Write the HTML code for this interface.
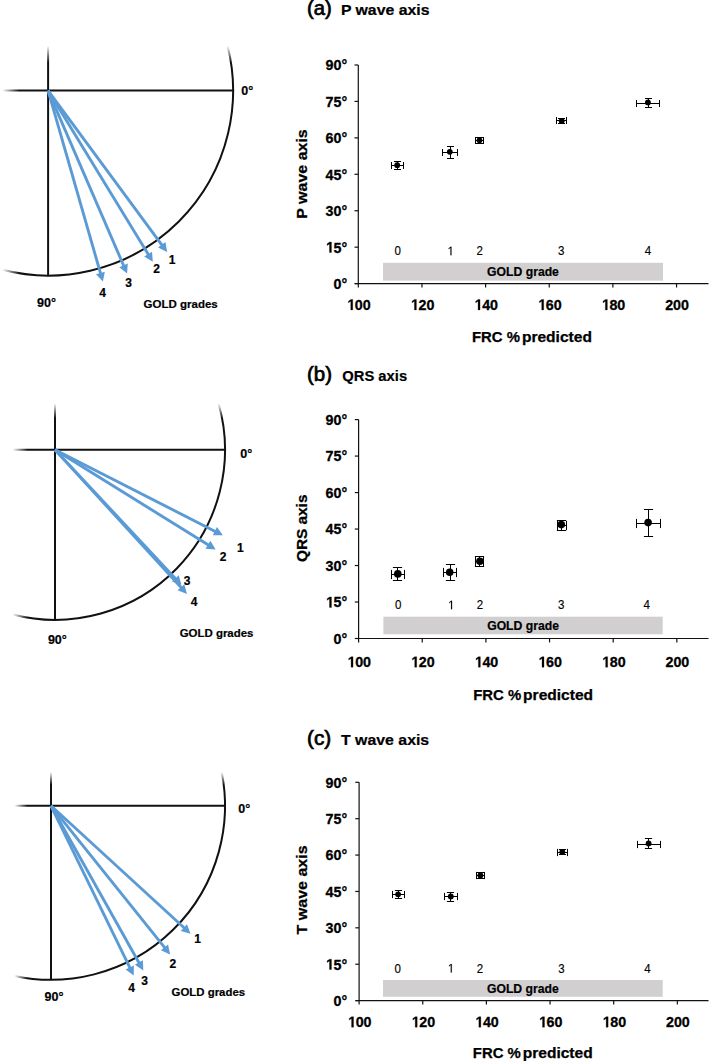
<!DOCTYPE html>
<html><head><meta charset="utf-8"><title>ECG axis vs FRC</title>
<style>html,body{margin:0;padding:0;background:#fff;} svg{display:block;} text{font-family:"Liberation Sans",sans-serif;}</style>
</head><body>
<svg width="709" height="1061" viewBox="0 0 709 1061">
<defs>
<linearGradient id="gh0" gradientUnits="userSpaceOnUse" x1="2.3" y1="0" x2="19.3" y2="0"><stop offset="0" stop-color="#000"/><stop offset="1" stop-color="#fff"/></linearGradient>
<linearGradient id="gv0" gradientUnits="userSpaceOnUse" x1="0" y1="45.7" x2="0" y2="62.7"><stop offset="0" stop-color="#000"/><stop offset="1" stop-color="#fff"/></linearGradient>
<mask id="m0" maskUnits="userSpaceOnUse" x="0" y="-9.400000000000006" width="300" height="385">
<rect x="0" y="-9.400000000000006" width="300" height="385" fill="#fff"/>
<rect x="0" y="30.599999999999994" width="19.3" height="265" fill="url(#gh0)"/>
<rect x="38.1" y="-9.400000000000006" width="215" height="72.10000000000001" fill="url(#gv0)"/>
</mask>
<linearGradient id="gh1" gradientUnits="userSpaceOnUse" x1="12.7" y1="0" x2="27.7" y2="0"><stop offset="0" stop-color="#000"/><stop offset="1" stop-color="#fff"/></linearGradient>
<linearGradient id="gv1" gradientUnits="userSpaceOnUse" x1="0" y1="403.3" x2="0" y2="418.3"><stop offset="0" stop-color="#000"/><stop offset="1" stop-color="#fff"/></linearGradient>
<mask id="m1" maskUnits="userSpaceOnUse" x="0" y="349.8" width="300" height="370">
<rect x="0" y="349.8" width="300" height="370" fill="#fff"/>
<rect x="0" y="389.8" width="27.7" height="250" fill="url(#gh1)"/>
<rect x="45.0" y="349.8" width="200" height="68.5" fill="url(#gv1)"/>
</mask>
<linearGradient id="gh2" gradientUnits="userSpaceOnUse" x1="14.4" y1="0" x2="27.4" y2="0"><stop offset="0" stop-color="#000"/><stop offset="1" stop-color="#fff"/></linearGradient>
<linearGradient id="gv2" gradientUnits="userSpaceOnUse" x1="0" y1="771.9" x2="0" y2="784.9"><stop offset="0" stop-color="#000"/><stop offset="1" stop-color="#fff"/></linearGradient>
<mask id="m2" maskUnits="userSpaceOnUse" x="0" y="705.8" width="300" height="374">
<rect x="0" y="705.8" width="300" height="374" fill="#fff"/>
<rect x="0" y="745.8" width="27.4" height="254" fill="url(#gh2)"/>
<rect x="41.0" y="705.8" width="204" height="79.10000000000002" fill="url(#gv2)"/>
</mask>
</defs>
<rect width="709" height="1061" fill="#fff"/>
<g mask="url(#m0)" stroke="#111" stroke-width="2" fill="none">
<line x1="2.3" y1="90.6" x2="233.1" y2="90.6"/>
<line x1="48.1" y1="45.7" x2="48.1" y2="275.6"/>
<path d="M227.57,45.70 A185,185 0 0 1 2.30,269.84"/>
</g>
<line x1="48.1" y1="90.6" x2="162.35" y2="245.56" stroke="#5b9bd5" stroke-width="2.9"/>
<polygon points="167.10,252.00 158.06,247.49 165.46,242.03" fill="#5b9bd5"/>
<line x1="48.1" y1="90.6" x2="148.63" y2="254.98" stroke="#5b9bd5" stroke-width="2.9"/>
<polygon points="152.80,261.80 144.18,256.52 152.03,251.72" fill="#5b9bd5"/>
<line x1="48.1" y1="90.6" x2="123.93" y2="266.26" stroke="#5b9bd5" stroke-width="2.9"/>
<polygon points="127.10,273.60 119.31,267.16 127.76,263.51" fill="#5b9bd5"/>
<line x1="48.1" y1="90.6" x2="100.69" y2="273.91" stroke="#5b9bd5" stroke-width="2.9"/>
<polygon points="102.90,281.60 96.00,274.22 104.84,271.68" fill="#5b9bd5"/>
<text x="172.2" y="263.6" text-anchor="middle" font-family="Liberation Sans, sans-serif" font-weight="bold" font-size="12" stroke="#000" stroke-width="0.2">1</text>
<text x="156.7" y="273.4" text-anchor="middle" font-family="Liberation Sans, sans-serif" font-weight="bold" font-size="12" stroke="#000" stroke-width="0.2">2</text>
<text x="128.6" y="286.9" text-anchor="middle" font-family="Liberation Sans, sans-serif" font-weight="bold" font-size="12" stroke="#000" stroke-width="0.2">3</text>
<text x="102.5" y="296.8" text-anchor="middle" font-family="Liberation Sans, sans-serif" font-weight="bold" font-size="12" stroke="#000" stroke-width="0.2">4</text>
<text x="241.2" y="95.2" font-family="Liberation Sans, sans-serif" font-weight="bold" font-size="12.5" stroke="#000" stroke-width="0.2">0°</text>
<text x="37.0" y="306.6" font-family="Liberation Sans, sans-serif" font-weight="bold" font-size="12.5" stroke="#000" stroke-width="0.2">90°</text>
<text x="143.6" y="308.2" font-family="Liberation Sans, sans-serif" font-weight="bold" font-size="11.6" stroke="#000" stroke-width="0.2" textLength="74.1" lengthAdjust="spacingAndGlyphs">GOLD grades</text>
<g mask="url(#m1)" stroke="#111" stroke-width="2" fill="none">
<line x1="12.7" y1="449.8" x2="225.0" y2="449.8"/>
<line x1="55.0" y1="403.3" x2="55.0" y2="619.8"/>
<path d="M218.52,403.30 A170,170 0 0 1 12.70,614.45"/>
</g>
<line x1="55.0" y1="449.8" x2="215.77" y2="531.67" stroke="#5b9bd5" stroke-width="2.9"/>
<polygon points="222.90,535.30 212.79,535.32 216.97,527.12" fill="#5b9bd5"/>
<line x1="55.0" y1="449.8" x2="208.80" y2="545.28" stroke="#5b9bd5" stroke-width="2.9"/>
<polygon points="215.60,549.50 205.53,548.66 210.38,540.84" fill="#5b9bd5"/>
<line x1="55.0" y1="449.8" x2="176.03" y2="579.16" stroke="#5b9bd5" stroke-width="2.9"/>
<polygon points="181.50,585.00 171.99,581.57 178.71,575.29" fill="#5b9bd5"/>
<line x1="55.0" y1="449.8" x2="181.60" y2="588.00" stroke="#5b9bd5" stroke-width="2.9"/>
<polygon points="187.00,593.90 177.53,590.37 184.31,584.16" fill="#5b9bd5"/>
<text x="240.3" y="551.8" text-anchor="middle" font-family="Liberation Sans, sans-serif" font-weight="bold" font-size="12" stroke="#000" stroke-width="0.2">1</text>
<text x="223.1" y="561.2" text-anchor="middle" font-family="Liberation Sans, sans-serif" font-weight="bold" font-size="12" stroke="#000" stroke-width="0.2">2</text>
<text x="187.0" y="584.8" text-anchor="middle" font-family="Liberation Sans, sans-serif" font-weight="bold" font-size="12" stroke="#000" stroke-width="0.2">3</text>
<text x="194.0" y="606.4" text-anchor="middle" font-family="Liberation Sans, sans-serif" font-weight="bold" font-size="12" stroke="#000" stroke-width="0.2">4</text>
<text x="240.2" y="457.8" font-family="Liberation Sans, sans-serif" font-weight="bold" font-size="12.5" stroke="#000" stroke-width="0.2">0°</text>
<text x="47.9" y="644.3" font-family="Liberation Sans, sans-serif" font-weight="bold" font-size="12.5" stroke="#000" stroke-width="0.2">90°</text>
<text x="179.7" y="637.1" font-family="Liberation Sans, sans-serif" font-weight="bold" font-size="11.6" stroke="#000" stroke-width="0.2" textLength="73.7" lengthAdjust="spacingAndGlyphs">GOLD grades</text>
<g mask="url(#m2)" stroke="#111" stroke-width="2" fill="none">
<line x1="14.4" y1="805.8" x2="225.0" y2="805.8"/>
<line x1="51.0" y1="771.9" x2="51.0" y2="979.8"/>
<path d="M221.67,771.90 A174,174 0 0 1 14.40,975.91"/>
</g>
<line x1="51.0" y1="805.8" x2="184.60" y2="928.29" stroke="#5b9bd5" stroke-width="2.9"/>
<polygon points="190.50,933.70 180.76,931.01 186.97,924.23" fill="#5b9bd5"/>
<line x1="51.0" y1="805.8" x2="165.10" y2="948.16" stroke="#5b9bd5" stroke-width="2.9"/>
<polygon points="170.10,954.40 160.88,950.25 168.06,944.50" fill="#5b9bd5"/>
<line x1="51.0" y1="805.8" x2="139.39" y2="963.42" stroke="#5b9bd5" stroke-width="2.9"/>
<polygon points="143.30,970.40 134.89,964.80 142.91,960.30" fill="#5b9bd5"/>
<line x1="51.0" y1="805.8" x2="130.20" y2="968.41" stroke="#5b9bd5" stroke-width="2.9"/>
<polygon points="133.70,975.60 125.62,969.52 133.89,965.49" fill="#5b9bd5"/>
<text x="197.6" y="942.9" text-anchor="middle" font-family="Liberation Sans, sans-serif" font-weight="bold" font-size="12" stroke="#000" stroke-width="0.2">1</text>
<text x="172.9" y="967.6" text-anchor="middle" font-family="Liberation Sans, sans-serif" font-weight="bold" font-size="12" stroke="#000" stroke-width="0.2">2</text>
<text x="144.7" y="984.5" text-anchor="middle" font-family="Liberation Sans, sans-serif" font-weight="bold" font-size="12" stroke="#000" stroke-width="0.2">3</text>
<text x="131.6" y="991.6" text-anchor="middle" font-family="Liberation Sans, sans-serif" font-weight="bold" font-size="12" stroke="#000" stroke-width="0.2">4</text>
<text x="238.2" y="812.5" font-family="Liberation Sans, sans-serif" font-weight="bold" font-size="12.5" stroke="#000" stroke-width="0.2">0°</text>
<text x="44.5" y="1000.7" font-family="Liberation Sans, sans-serif" font-weight="bold" font-size="12.5" stroke="#000" stroke-width="0.2">90°</text>
<text x="171.5" y="996.2" font-family="Liberation Sans, sans-serif" font-weight="bold" font-size="11.6" stroke="#000" stroke-width="0.2" textLength="73.6" lengthAdjust="spacingAndGlyphs">GOLD grades</text>
<text x="307.0" y="15.2" font-family="Liberation Sans, sans-serif" font-size="19.5" stroke="#000" stroke-width="0.7" textLength="24.8" lengthAdjust="spacingAndGlyphs">(a)</text>
<text x="340.9" y="14.6" font-family="Liberation Sans, sans-serif" font-weight="bold" font-size="14.8" stroke="#000" stroke-width="0.2" textLength="88.6" lengthAdjust="spacingAndGlyphs">P wave axis</text>
<rect x="383.0" y="262.8" width="280.0" height="17.80000000000001" fill="#d1cfd0"/>
<text x="523.0" y="276.3" text-anchor="middle" font-family="Liberation Sans, sans-serif" font-weight="bold" font-size="12.2" stroke="#000" stroke-width="0.2">GOLD grade</text>
<g transform="translate(397.80,255.30) scale(0.93,1)"><text x="-3.448" y="0" font-family="Liberation Sans, sans-serif" font-size="12.4" stroke="#000" stroke-width="0.15">0</text></g>
<g transform="translate(450.50,255.30) scale(0.93,1)"><path transform="translate(-3.448,0) scale(0.00605,-0.00605)" d="M560 0L560 1237L242 1010L242 1180L575 1409L741 1409L741 0Z" fill="#000" stroke="#000" stroke-width="24.8"/></g>
<g transform="translate(479.70,255.30) scale(0.93,1)"><text x="-3.448" y="0" font-family="Liberation Sans, sans-serif" font-size="12.4" stroke="#000" stroke-width="0.15">2</text></g>
<g transform="translate(561.20,255.30) scale(0.93,1)"><text x="-3.448" y="0" font-family="Liberation Sans, sans-serif" font-size="12.4" stroke="#000" stroke-width="0.15">3</text></g>
<g transform="translate(647.90,255.30) scale(0.93,1)"><text x="-3.448" y="0" font-family="Liberation Sans, sans-serif" font-size="12.4" stroke="#000" stroke-width="0.15">4</text></g>
<g stroke="#111" stroke-width="1.2" fill="none">
<line x1="358.3" y1="65.0" x2="358.3" y2="283.6"/>
<line x1="354.8" y1="283.6" x2="708.5" y2="283.6"/>
<line x1="354.5" y1="283.60" x2="358.3" y2="283.60"/>
<line x1="354.5" y1="247.17" x2="358.3" y2="247.17"/>
<line x1="354.5" y1="210.73" x2="358.3" y2="210.73"/>
<line x1="354.5" y1="174.30" x2="358.3" y2="174.30"/>
<line x1="354.5" y1="137.87" x2="358.3" y2="137.87"/>
<line x1="354.5" y1="101.43" x2="358.3" y2="101.43"/>
<line x1="354.5" y1="65.00" x2="358.3" y2="65.00"/>
<line x1="358.30" y1="283.6" x2="358.30" y2="287.5"/>
<line x1="421.95" y1="283.6" x2="421.95" y2="287.5"/>
<line x1="485.60" y1="283.6" x2="485.60" y2="287.5"/>
<line x1="549.25" y1="283.6" x2="549.25" y2="287.5"/>
<line x1="612.90" y1="283.6" x2="612.90" y2="287.5"/>
<line x1="676.55" y1="283.6" x2="676.55" y2="287.5"/>
</g>
<g transform="translate(347.20,289.00) scale(0.94,1)"><text x="-14.532 -6.079" y="0" font-family="Liberation Sans, sans-serif" font-weight="bold" font-size="15.2" stroke="#000" stroke-width="0.3">0°</text></g>
<g transform="translate(347.20,252.57) scale(0.94,1)"><text x="-14.532 -6.079" y="0" font-family="Liberation Sans, sans-serif" font-weight="bold" font-size="15.2" stroke="#000" stroke-width="0.3">5°</text><path transform="translate(-22.986,0) scale(0.00742,-0.00742)" d="M558 0L558 1170L220 959L220 1180L573 1409L839 1409L839 0Z" fill="#000" stroke="#000" stroke-width="40.4"/></g>
<g transform="translate(347.20,216.13) scale(0.94,1)"><text x="-22.986 -14.532 -6.079" y="0" font-family="Liberation Sans, sans-serif" font-weight="bold" font-size="15.2" stroke="#000" stroke-width="0.3">30°</text></g>
<g transform="translate(347.20,179.70) scale(0.94,1)"><text x="-22.986 -14.532 -6.079" y="0" font-family="Liberation Sans, sans-serif" font-weight="bold" font-size="15.2" stroke="#000" stroke-width="0.3">45°</text></g>
<g transform="translate(347.20,143.27) scale(0.94,1)"><text x="-22.986 -14.532 -6.079" y="0" font-family="Liberation Sans, sans-serif" font-weight="bold" font-size="15.2" stroke="#000" stroke-width="0.3">60°</text></g>
<g transform="translate(347.20,106.83) scale(0.94,1)"><text x="-22.986 -14.532 -6.079" y="0" font-family="Liberation Sans, sans-serif" font-weight="bold" font-size="15.2" stroke="#000" stroke-width="0.3">75°</text></g>
<g transform="translate(347.20,70.40) scale(0.94,1)"><text x="-22.986 -14.532 -6.079" y="0" font-family="Liberation Sans, sans-serif" font-weight="bold" font-size="15.2" stroke="#000" stroke-width="0.3">90°</text></g>
<g transform="translate(358.80,309.90) scale(0.94,1)"><text x="-4.227 4.227" y="0" font-family="Liberation Sans, sans-serif" font-weight="bold" font-size="15.2" stroke="#000" stroke-width="0.3">00</text><path transform="translate(-12.680,0) scale(0.00742,-0.00742)" d="M558 0L558 1170L220 959L220 1180L573 1409L839 1409L839 0Z" fill="#000" stroke="#000" stroke-width="40.4"/></g>
<g transform="translate(422.45,309.90) scale(0.94,1)"><text x="-4.227 4.227" y="0" font-family="Liberation Sans, sans-serif" font-weight="bold" font-size="15.2" stroke="#000" stroke-width="0.3">20</text><path transform="translate(-12.680,0) scale(0.00742,-0.00742)" d="M558 0L558 1170L220 959L220 1180L573 1409L839 1409L839 0Z" fill="#000" stroke="#000" stroke-width="40.4"/></g>
<g transform="translate(486.10,309.90) scale(0.94,1)"><text x="-4.227 4.227" y="0" font-family="Liberation Sans, sans-serif" font-weight="bold" font-size="15.2" stroke="#000" stroke-width="0.3">40</text><path transform="translate(-12.680,0) scale(0.00742,-0.00742)" d="M558 0L558 1170L220 959L220 1180L573 1409L839 1409L839 0Z" fill="#000" stroke="#000" stroke-width="40.4"/></g>
<g transform="translate(549.75,309.90) scale(0.94,1)"><text x="-4.227 4.227" y="0" font-family="Liberation Sans, sans-serif" font-weight="bold" font-size="15.2" stroke="#000" stroke-width="0.3">60</text><path transform="translate(-12.680,0) scale(0.00742,-0.00742)" d="M558 0L558 1170L220 959L220 1180L573 1409L839 1409L839 0Z" fill="#000" stroke="#000" stroke-width="40.4"/></g>
<g transform="translate(613.40,309.90) scale(0.94,1)"><text x="-4.227 4.227" y="0" font-family="Liberation Sans, sans-serif" font-weight="bold" font-size="15.2" stroke="#000" stroke-width="0.3">80</text><path transform="translate(-12.680,0) scale(0.00742,-0.00742)" d="M558 0L558 1170L220 959L220 1180L573 1409L839 1409L839 0Z" fill="#000" stroke="#000" stroke-width="40.4"/></g>
<g transform="translate(677.05,309.90) scale(0.94,1)"><text x="-12.680 -4.227 4.227" y="0" font-family="Liberation Sans, sans-serif" font-weight="bold" font-size="15.2" stroke="#000" stroke-width="0.3">200</text></g>
<text transform="translate(306.8,174.0) rotate(-90)" text-anchor="middle" font-family="Liberation Sans, sans-serif" font-weight="bold" font-size="14.8" stroke="#000" stroke-width="0.25" textLength="89.5" lengthAdjust="spacingAndGlyphs">P wave axis</text>
<text x="472.0" y="341.7" font-family="Liberation Sans, sans-serif" font-weight="bold" font-size="14.8" stroke="#000" stroke-width="0.25" textLength="48" lengthAdjust="spacingAndGlyphs">FRC %</text>
<text x="521.9" y="341.7" font-family="Liberation Sans, sans-serif" font-weight="bold" font-size="14.8" stroke="#000" stroke-width="0.25" textLength="70" lengthAdjust="spacingAndGlyphs">predicted</text>
<g stroke="#000" stroke-width="1" fill="none"><line x1="391.5" y1="165.5" x2="403.5" y2="165.5"/><line x1="397.5" y1="161.5" x2="397.5" y2="169.5"/><line x1="391.5" y1="162.0" x2="391.5" y2="169.0"/><line x1="403.5" y1="162.0" x2="403.5" y2="169.0"/><line x1="394.0" y1="161.5" x2="401.0" y2="161.5"/><line x1="394.0" y1="169.5" x2="401.0" y2="169.5"/></g>
<circle cx="397.2" cy="165.2" r="2.9" fill="#000"/>
<g stroke="#000" stroke-width="1" fill="none"><line x1="442.5" y1="152.5" x2="457.5" y2="152.5"/><line x1="450.5" y1="146.5" x2="450.5" y2="158.5"/><line x1="442.5" y1="149.0" x2="442.5" y2="156.0"/><line x1="457.5" y1="149.0" x2="457.5" y2="156.0"/><line x1="447.0" y1="146.5" x2="454.0" y2="146.5"/><line x1="447.0" y1="158.5" x2="454.0" y2="158.5"/></g>
<circle cx="449.8" cy="151.8" r="2.9" fill="#000"/>
<g stroke="#000" stroke-width="1" fill="none"><line x1="475.5" y1="140.5" x2="483.5" y2="140.5"/><line x1="479.5" y1="137.5" x2="479.5" y2="143.5"/><line x1="475.5" y1="137.0" x2="475.5" y2="144.0"/><line x1="483.5" y1="137.0" x2="483.5" y2="144.0"/><line x1="476.0" y1="137.5" x2="483.0" y2="137.5"/><line x1="476.0" y1="143.5" x2="483.0" y2="143.5"/></g>
<circle cx="479.5" cy="140.3" r="2.9" fill="#000"/>
<g stroke="#000" stroke-width="1" fill="none"><line x1="556.5" y1="120.5" x2="566.5" y2="120.5"/><line x1="561.5" y1="118.5" x2="561.5" y2="123.5"/><line x1="556.5" y1="117.0" x2="556.5" y2="124.0"/><line x1="566.5" y1="117.0" x2="566.5" y2="124.0"/><line x1="558.0" y1="118.5" x2="565.0" y2="118.5"/><line x1="558.0" y1="123.5" x2="565.0" y2="123.5"/></g>
<circle cx="561.7" cy="120.9" r="2.9" fill="#000"/>
<g stroke="#000" stroke-width="1" fill="none"><line x1="636.5" y1="103.5" x2="659.5" y2="103.5"/><line x1="648.5" y1="98.5" x2="648.5" y2="107.5"/><line x1="636.5" y1="100.0" x2="636.5" y2="107.0"/><line x1="659.5" y1="100.0" x2="659.5" y2="107.0"/><line x1="645.0" y1="98.5" x2="652.0" y2="98.5"/><line x1="645.0" y1="107.5" x2="652.0" y2="107.5"/></g>
<circle cx="647.9" cy="102.4" r="2.9" fill="#000"/>
<text x="307.0" y="381.4" font-family="Liberation Sans, sans-serif" font-size="19.5" stroke="#000" stroke-width="0.7" textLength="25.0" lengthAdjust="spacingAndGlyphs">(b)</text>
<text x="342.3" y="381.4" font-family="Liberation Sans, sans-serif" font-weight="bold" font-size="14.8" stroke="#000" stroke-width="0.2" textLength="64.8" lengthAdjust="spacingAndGlyphs">QRS axis</text>
<rect x="383.4" y="616.7" width="279.30000000000007" height="17.59999999999991" fill="#d1cfd0"/>
<text x="523.05" y="630.2" text-anchor="middle" font-family="Liberation Sans, sans-serif" font-weight="bold" font-size="12.2" stroke="#000" stroke-width="0.2">GOLD grade</text>
<g transform="translate(398.10,609.30) scale(0.93,1)"><text x="-3.448" y="0" font-family="Liberation Sans, sans-serif" font-size="12.4" stroke="#000" stroke-width="0.15">0</text></g>
<g transform="translate(451.10,609.30) scale(0.93,1)"><path transform="translate(-3.448,0) scale(0.00605,-0.00605)" d="M560 0L560 1237L242 1010L242 1180L575 1409L741 1409L741 0Z" fill="#000" stroke="#000" stroke-width="24.8"/></g>
<g transform="translate(479.90,609.30) scale(0.93,1)"><text x="-3.448" y="0" font-family="Liberation Sans, sans-serif" font-size="12.4" stroke="#000" stroke-width="0.15">2</text></g>
<g transform="translate(561.10,609.30) scale(0.93,1)"><text x="-3.448" y="0" font-family="Liberation Sans, sans-serif" font-size="12.4" stroke="#000" stroke-width="0.15">3</text></g>
<g transform="translate(646.60,609.30) scale(0.93,1)"><text x="-3.448" y="0" font-family="Liberation Sans, sans-serif" font-size="12.4" stroke="#000" stroke-width="0.15">4</text></g>
<g stroke="#111" stroke-width="1.2" fill="none">
<line x1="358.6" y1="419.6" x2="358.6" y2="638.5"/>
<line x1="355.1" y1="638.5" x2="708.5" y2="638.5"/>
<line x1="354.8" y1="638.50" x2="358.6" y2="638.50"/>
<line x1="354.8" y1="602.02" x2="358.6" y2="602.02"/>
<line x1="354.8" y1="565.53" x2="358.6" y2="565.53"/>
<line x1="354.8" y1="529.05" x2="358.6" y2="529.05"/>
<line x1="354.8" y1="492.57" x2="358.6" y2="492.57"/>
<line x1="354.8" y1="456.08" x2="358.6" y2="456.08"/>
<line x1="354.8" y1="419.60" x2="358.6" y2="419.60"/>
<line x1="358.60" y1="638.5" x2="358.60" y2="642.4"/>
<line x1="422.25" y1="638.5" x2="422.25" y2="642.4"/>
<line x1="485.90" y1="638.5" x2="485.90" y2="642.4"/>
<line x1="549.55" y1="638.5" x2="549.55" y2="642.4"/>
<line x1="613.20" y1="638.5" x2="613.20" y2="642.4"/>
<line x1="676.85" y1="638.5" x2="676.85" y2="642.4"/>
</g>
<g transform="translate(347.20,643.90) scale(0.94,1)"><text x="-14.532 -6.079" y="0" font-family="Liberation Sans, sans-serif" font-weight="bold" font-size="15.2" stroke="#000" stroke-width="0.3">0°</text></g>
<g transform="translate(347.20,607.42) scale(0.94,1)"><text x="-14.532 -6.079" y="0" font-family="Liberation Sans, sans-serif" font-weight="bold" font-size="15.2" stroke="#000" stroke-width="0.3">5°</text><path transform="translate(-22.986,0) scale(0.00742,-0.00742)" d="M558 0L558 1170L220 959L220 1180L573 1409L839 1409L839 0Z" fill="#000" stroke="#000" stroke-width="40.4"/></g>
<g transform="translate(347.20,570.93) scale(0.94,1)"><text x="-22.986 -14.532 -6.079" y="0" font-family="Liberation Sans, sans-serif" font-weight="bold" font-size="15.2" stroke="#000" stroke-width="0.3">30°</text></g>
<g transform="translate(347.20,534.45) scale(0.94,1)"><text x="-22.986 -14.532 -6.079" y="0" font-family="Liberation Sans, sans-serif" font-weight="bold" font-size="15.2" stroke="#000" stroke-width="0.3">45°</text></g>
<g transform="translate(347.20,497.97) scale(0.94,1)"><text x="-22.986 -14.532 -6.079" y="0" font-family="Liberation Sans, sans-serif" font-weight="bold" font-size="15.2" stroke="#000" stroke-width="0.3">60°</text></g>
<g transform="translate(347.20,461.48) scale(0.94,1)"><text x="-22.986 -14.532 -6.079" y="0" font-family="Liberation Sans, sans-serif" font-weight="bold" font-size="15.2" stroke="#000" stroke-width="0.3">75°</text></g>
<g transform="translate(347.20,425.00) scale(0.94,1)"><text x="-22.986 -14.532 -6.079" y="0" font-family="Liberation Sans, sans-serif" font-weight="bold" font-size="15.2" stroke="#000" stroke-width="0.3">90°</text></g>
<g transform="translate(359.10,667.20) scale(0.94,1)"><text x="-4.227 4.227" y="0" font-family="Liberation Sans, sans-serif" font-weight="bold" font-size="15.2" stroke="#000" stroke-width="0.3">00</text><path transform="translate(-12.680,0) scale(0.00742,-0.00742)" d="M558 0L558 1170L220 959L220 1180L573 1409L839 1409L839 0Z" fill="#000" stroke="#000" stroke-width="40.4"/></g>
<g transform="translate(422.75,667.20) scale(0.94,1)"><text x="-4.227 4.227" y="0" font-family="Liberation Sans, sans-serif" font-weight="bold" font-size="15.2" stroke="#000" stroke-width="0.3">20</text><path transform="translate(-12.680,0) scale(0.00742,-0.00742)" d="M558 0L558 1170L220 959L220 1180L573 1409L839 1409L839 0Z" fill="#000" stroke="#000" stroke-width="40.4"/></g>
<g transform="translate(486.40,667.20) scale(0.94,1)"><text x="-4.227 4.227" y="0" font-family="Liberation Sans, sans-serif" font-weight="bold" font-size="15.2" stroke="#000" stroke-width="0.3">40</text><path transform="translate(-12.680,0) scale(0.00742,-0.00742)" d="M558 0L558 1170L220 959L220 1180L573 1409L839 1409L839 0Z" fill="#000" stroke="#000" stroke-width="40.4"/></g>
<g transform="translate(550.05,667.20) scale(0.94,1)"><text x="-4.227 4.227" y="0" font-family="Liberation Sans, sans-serif" font-weight="bold" font-size="15.2" stroke="#000" stroke-width="0.3">60</text><path transform="translate(-12.680,0) scale(0.00742,-0.00742)" d="M558 0L558 1170L220 959L220 1180L573 1409L839 1409L839 0Z" fill="#000" stroke="#000" stroke-width="40.4"/></g>
<g transform="translate(613.70,667.20) scale(0.94,1)"><text x="-4.227 4.227" y="0" font-family="Liberation Sans, sans-serif" font-weight="bold" font-size="15.2" stroke="#000" stroke-width="0.3">80</text><path transform="translate(-12.680,0) scale(0.00742,-0.00742)" d="M558 0L558 1170L220 959L220 1180L573 1409L839 1409L839 0Z" fill="#000" stroke="#000" stroke-width="40.4"/></g>
<g transform="translate(677.35,667.20) scale(0.94,1)"><text x="-12.680 -4.227 4.227" y="0" font-family="Liberation Sans, sans-serif" font-weight="bold" font-size="15.2" stroke="#000" stroke-width="0.3">200</text></g>
<text transform="translate(306.8,528.3) rotate(-90)" text-anchor="middle" font-family="Liberation Sans, sans-serif" font-weight="bold" font-size="14.8" stroke="#000" stroke-width="0.25" textLength="67.5" lengthAdjust="spacingAndGlyphs">QRS axis</text>
<text x="473.2" y="699.8" font-family="Liberation Sans, sans-serif" font-weight="bold" font-size="14.8" stroke="#000" stroke-width="0.25" textLength="48" lengthAdjust="spacingAndGlyphs">FRC %</text>
<text x="523.1" y="699.8" font-family="Liberation Sans, sans-serif" font-weight="bold" font-size="14.8" stroke="#000" stroke-width="0.25" textLength="70" lengthAdjust="spacingAndGlyphs">predicted</text>
<g stroke="#000" stroke-width="1" fill="none"><line x1="391.5" y1="574.5" x2="404.5" y2="574.5"/><line x1="397.5" y1="567.5" x2="397.5" y2="580.5"/><line x1="391.5" y1="569.9" x2="391.5" y2="579.1"/><line x1="404.5" y1="569.9" x2="404.5" y2="579.1"/><line x1="392.9" y1="567.5" x2="402.1" y2="567.5"/><line x1="392.9" y1="580.5" x2="402.1" y2="580.5"/></g>
<circle cx="397.8" cy="573.9" r="3.8" fill="#000"/>
<g stroke="#000" stroke-width="1" fill="none"><line x1="443.5" y1="572.5" x2="456.5" y2="572.5"/><line x1="450.5" y1="564.5" x2="450.5" y2="580.5"/><line x1="443.5" y1="567.9" x2="443.5" y2="577.1"/><line x1="456.5" y1="567.9" x2="456.5" y2="577.1"/><line x1="445.9" y1="564.5" x2="455.1" y2="564.5"/><line x1="445.9" y1="580.5" x2="455.1" y2="580.5"/></g>
<circle cx="449.7" cy="572.2" r="3.8" fill="#000"/>
<g stroke="#000" stroke-width="1" fill="none"><line x1="475.5" y1="561.5" x2="483.5" y2="561.5"/><line x1="479.5" y1="556.5" x2="479.5" y2="566.5"/><line x1="475.5" y1="556.9" x2="475.5" y2="566.1"/><line x1="483.5" y1="556.9" x2="483.5" y2="566.1"/><line x1="474.9" y1="556.5" x2="484.1" y2="556.5"/><line x1="474.9" y1="566.5" x2="484.1" y2="566.5"/></g>
<circle cx="479.9" cy="561.2" r="3.8" fill="#000"/>
<g stroke="#000" stroke-width="1" fill="none"><line x1="557.5" y1="525.5" x2="566.5" y2="525.5"/><line x1="561.5" y1="520.5" x2="561.5" y2="530.5"/><line x1="557.5" y1="520.9" x2="557.5" y2="530.1"/><line x1="566.5" y1="520.9" x2="566.5" y2="530.1"/><line x1="556.9" y1="520.5" x2="566.1" y2="520.5"/><line x1="556.9" y1="530.5" x2="566.1" y2="530.5"/></g>
<circle cx="561.3" cy="524.6" r="3.8" fill="#000"/>
<g stroke="#000" stroke-width="1" fill="none"><line x1="636.5" y1="523.5" x2="660.5" y2="523.5"/><line x1="648.5" y1="509.5" x2="648.5" y2="536.5"/><line x1="636.5" y1="518.9" x2="636.5" y2="528.1"/><line x1="660.5" y1="518.9" x2="660.5" y2="528.1"/><line x1="643.9" y1="509.5" x2="653.1" y2="509.5"/><line x1="643.9" y1="536.5" x2="653.1" y2="536.5"/></g>
<circle cx="648.1" cy="522.6" r="3.8" fill="#000"/>
<text x="307.0" y="745.2" font-family="Liberation Sans, sans-serif" font-size="19.5" stroke="#000" stroke-width="0.7" textLength="24.2" lengthAdjust="spacingAndGlyphs">(c)</text>
<text x="341.0" y="745.3" font-family="Liberation Sans, sans-serif" font-weight="bold" font-size="14.8" stroke="#000" stroke-width="0.2" textLength="88.2" lengthAdjust="spacingAndGlyphs">T wave axis</text>
<rect x="383.0" y="980.0" width="279.70000000000005" height="16.799999999999955" fill="#d1cfd0"/>
<text x="522.85" y="992.6" text-anchor="middle" font-family="Liberation Sans, sans-serif" font-weight="bold" font-size="12.2" stroke="#000" stroke-width="0.2">GOLD grade</text>
<g transform="translate(397.80,972.60) scale(0.93,1)"><text x="-3.448" y="0" font-family="Liberation Sans, sans-serif" font-size="12.4" stroke="#000" stroke-width="0.15">0</text></g>
<g transform="translate(450.80,972.60) scale(0.93,1)"><path transform="translate(-3.448,0) scale(0.00605,-0.00605)" d="M560 0L560 1237L242 1010L242 1180L575 1409L741 1409L741 0Z" fill="#000" stroke="#000" stroke-width="24.8"/></g>
<g transform="translate(479.90,972.60) scale(0.93,1)"><text x="-3.448" y="0" font-family="Liberation Sans, sans-serif" font-size="12.4" stroke="#000" stroke-width="0.15">2</text></g>
<g transform="translate(561.50,972.60) scale(0.93,1)"><text x="-3.448" y="0" font-family="Liberation Sans, sans-serif" font-size="12.4" stroke="#000" stroke-width="0.15">3</text></g>
<g transform="translate(647.50,972.60) scale(0.93,1)"><text x="-3.448" y="0" font-family="Liberation Sans, sans-serif" font-size="12.4" stroke="#000" stroke-width="0.15">4</text></g>
<g stroke="#111" stroke-width="1.2" fill="none">
<line x1="359.1" y1="782.3" x2="359.1" y2="1000.6"/>
<line x1="355.6" y1="1000.6" x2="708.5" y2="1000.6"/>
<line x1="355.3" y1="1000.60" x2="359.1" y2="1000.60"/>
<line x1="355.3" y1="964.22" x2="359.1" y2="964.22"/>
<line x1="355.3" y1="927.83" x2="359.1" y2="927.83"/>
<line x1="355.3" y1="891.45" x2="359.1" y2="891.45"/>
<line x1="355.3" y1="855.07" x2="359.1" y2="855.07"/>
<line x1="355.3" y1="818.68" x2="359.1" y2="818.68"/>
<line x1="355.3" y1="782.30" x2="359.1" y2="782.30"/>
<line x1="359.10" y1="1000.6" x2="359.10" y2="1004.5"/>
<line x1="422.75" y1="1000.6" x2="422.75" y2="1004.5"/>
<line x1="486.40" y1="1000.6" x2="486.40" y2="1004.5"/>
<line x1="550.05" y1="1000.6" x2="550.05" y2="1004.5"/>
<line x1="613.70" y1="1000.6" x2="613.70" y2="1004.5"/>
<line x1="677.35" y1="1000.6" x2="677.35" y2="1004.5"/>
</g>
<g transform="translate(347.20,1006.00) scale(0.94,1)"><text x="-14.532 -6.079" y="0" font-family="Liberation Sans, sans-serif" font-weight="bold" font-size="15.2" stroke="#000" stroke-width="0.3">0°</text></g>
<g transform="translate(347.20,969.62) scale(0.94,1)"><text x="-14.532 -6.079" y="0" font-family="Liberation Sans, sans-serif" font-weight="bold" font-size="15.2" stroke="#000" stroke-width="0.3">5°</text><path transform="translate(-22.986,0) scale(0.00742,-0.00742)" d="M558 0L558 1170L220 959L220 1180L573 1409L839 1409L839 0Z" fill="#000" stroke="#000" stroke-width="40.4"/></g>
<g transform="translate(347.20,933.23) scale(0.94,1)"><text x="-22.986 -14.532 -6.079" y="0" font-family="Liberation Sans, sans-serif" font-weight="bold" font-size="15.2" stroke="#000" stroke-width="0.3">30°</text></g>
<g transform="translate(347.20,896.85) scale(0.94,1)"><text x="-22.986 -14.532 -6.079" y="0" font-family="Liberation Sans, sans-serif" font-weight="bold" font-size="15.2" stroke="#000" stroke-width="0.3">45°</text></g>
<g transform="translate(347.20,860.47) scale(0.94,1)"><text x="-22.986 -14.532 -6.079" y="0" font-family="Liberation Sans, sans-serif" font-weight="bold" font-size="15.2" stroke="#000" stroke-width="0.3">60°</text></g>
<g transform="translate(347.20,824.08) scale(0.94,1)"><text x="-22.986 -14.532 -6.079" y="0" font-family="Liberation Sans, sans-serif" font-weight="bold" font-size="15.2" stroke="#000" stroke-width="0.3">75°</text></g>
<g transform="translate(347.20,787.70) scale(0.94,1)"><text x="-22.986 -14.532 -6.079" y="0" font-family="Liberation Sans, sans-serif" font-weight="bold" font-size="15.2" stroke="#000" stroke-width="0.3">90°</text></g>
<g transform="translate(359.60,1027.20) scale(0.94,1)"><text x="-4.227 4.227" y="0" font-family="Liberation Sans, sans-serif" font-weight="bold" font-size="15.2" stroke="#000" stroke-width="0.3">00</text><path transform="translate(-12.680,0) scale(0.00742,-0.00742)" d="M558 0L558 1170L220 959L220 1180L573 1409L839 1409L839 0Z" fill="#000" stroke="#000" stroke-width="40.4"/></g>
<g transform="translate(423.25,1027.20) scale(0.94,1)"><text x="-4.227 4.227" y="0" font-family="Liberation Sans, sans-serif" font-weight="bold" font-size="15.2" stroke="#000" stroke-width="0.3">20</text><path transform="translate(-12.680,0) scale(0.00742,-0.00742)" d="M558 0L558 1170L220 959L220 1180L573 1409L839 1409L839 0Z" fill="#000" stroke="#000" stroke-width="40.4"/></g>
<g transform="translate(486.90,1027.20) scale(0.94,1)"><text x="-4.227 4.227" y="0" font-family="Liberation Sans, sans-serif" font-weight="bold" font-size="15.2" stroke="#000" stroke-width="0.3">40</text><path transform="translate(-12.680,0) scale(0.00742,-0.00742)" d="M558 0L558 1170L220 959L220 1180L573 1409L839 1409L839 0Z" fill="#000" stroke="#000" stroke-width="40.4"/></g>
<g transform="translate(550.55,1027.20) scale(0.94,1)"><text x="-4.227 4.227" y="0" font-family="Liberation Sans, sans-serif" font-weight="bold" font-size="15.2" stroke="#000" stroke-width="0.3">60</text><path transform="translate(-12.680,0) scale(0.00742,-0.00742)" d="M558 0L558 1170L220 959L220 1180L573 1409L839 1409L839 0Z" fill="#000" stroke="#000" stroke-width="40.4"/></g>
<g transform="translate(614.20,1027.20) scale(0.94,1)"><text x="-4.227 4.227" y="0" font-family="Liberation Sans, sans-serif" font-weight="bold" font-size="15.2" stroke="#000" stroke-width="0.3">80</text><path transform="translate(-12.680,0) scale(0.00742,-0.00742)" d="M558 0L558 1170L220 959L220 1180L573 1409L839 1409L839 0Z" fill="#000" stroke="#000" stroke-width="40.4"/></g>
<g transform="translate(677.85,1027.20) scale(0.94,1)"><text x="-12.680 -4.227 4.227" y="0" font-family="Liberation Sans, sans-serif" font-weight="bold" font-size="15.2" stroke="#000" stroke-width="0.3">200</text></g>
<text transform="translate(306.8,889.9) rotate(-90)" text-anchor="middle" font-family="Liberation Sans, sans-serif" font-weight="bold" font-size="14.8" stroke="#000" stroke-width="0.25" textLength="89.0" lengthAdjust="spacingAndGlyphs">T wave axis</text>
<text x="472.8" y="1057.7" font-family="Liberation Sans, sans-serif" font-weight="bold" font-size="14.8" stroke="#000" stroke-width="0.25" textLength="48" lengthAdjust="spacingAndGlyphs">FRC %</text>
<text x="522.6999999999999" y="1057.7" font-family="Liberation Sans, sans-serif" font-weight="bold" font-size="14.8" stroke="#000" stroke-width="0.25" textLength="70" lengthAdjust="spacingAndGlyphs">predicted</text>
<g stroke="#000" stroke-width="1" fill="none"><line x1="392.5" y1="894.5" x2="404.5" y2="894.5"/><line x1="398.5" y1="890.5" x2="398.5" y2="898.5"/><line x1="392.5" y1="890.9" x2="392.5" y2="898.1"/><line x1="404.5" y1="890.9" x2="404.5" y2="898.1"/><line x1="394.9" y1="890.5" x2="402.1" y2="890.5"/><line x1="394.9" y1="898.5" x2="402.1" y2="898.5"/></g>
<circle cx="398.1" cy="894.3" r="2.9" fill="#000"/>
<g stroke="#000" stroke-width="1" fill="none"><line x1="444.5" y1="896.5" x2="457.5" y2="896.5"/><line x1="450.5" y1="892.5" x2="450.5" y2="901.5"/><line x1="444.5" y1="892.9" x2="444.5" y2="900.1"/><line x1="457.5" y1="892.9" x2="457.5" y2="900.1"/><line x1="446.9" y1="892.5" x2="454.1" y2="892.5"/><line x1="446.9" y1="901.5" x2="454.1" y2="901.5"/></g>
<circle cx="450.8" cy="896.5" r="2.9" fill="#000"/>
<g stroke="#000" stroke-width="1" fill="none"><line x1="476.5" y1="875.5" x2="484.5" y2="875.5"/><line x1="480.5" y1="872.5" x2="480.5" y2="878.5"/><line x1="476.5" y1="871.9" x2="476.5" y2="879.1"/><line x1="484.5" y1="871.9" x2="484.5" y2="879.1"/><line x1="476.9" y1="872.5" x2="484.1" y2="872.5"/><line x1="476.9" y1="878.5" x2="484.1" y2="878.5"/></g>
<circle cx="480.4" cy="875.4" r="2.9" fill="#000"/>
<g stroke="#000" stroke-width="1" fill="none"><line x1="557.5" y1="852.5" x2="567.5" y2="852.5"/><line x1="562.5" y1="849.5" x2="562.5" y2="854.5"/><line x1="557.5" y1="848.9" x2="557.5" y2="856.1"/><line x1="567.5" y1="848.9" x2="567.5" y2="856.1"/><line x1="558.9" y1="849.5" x2="566.1" y2="849.5"/><line x1="558.9" y1="854.5" x2="566.1" y2="854.5"/></g>
<circle cx="562.3" cy="852.0" r="2.9" fill="#000"/>
<g stroke="#000" stroke-width="1" fill="none"><line x1="637.5" y1="844.5" x2="660.5" y2="844.5"/><line x1="648.5" y1="838.5" x2="648.5" y2="848.5"/><line x1="637.5" y1="840.9" x2="637.5" y2="848.1"/><line x1="660.5" y1="840.9" x2="660.5" y2="848.1"/><line x1="644.9" y1="838.5" x2="652.1" y2="838.5"/><line x1="644.9" y1="848.5" x2="652.1" y2="848.5"/></g>
<circle cx="648.6" cy="843.4" r="2.9" fill="#000"/>
</svg>
</body></html>
